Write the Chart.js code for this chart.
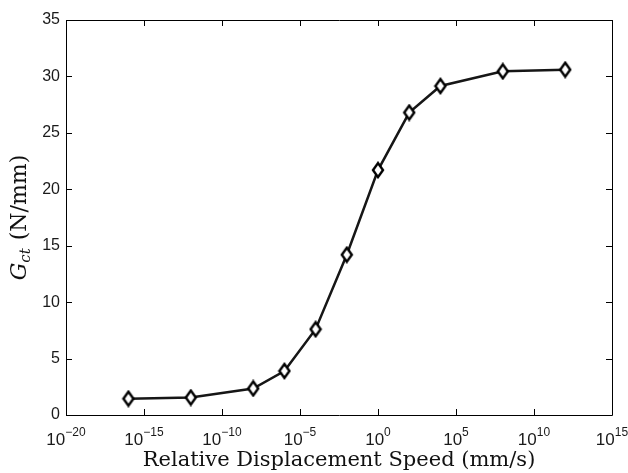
<!DOCTYPE html>
<html>
<head>
<meta charset="utf-8">
<script src="https://cdn.jsdelivr.net/npm/chart.js@4"></script>
<style>
    html, body { margin: 0; padding: 0; background: #ffffff; }
</style>
</head>
<body>
<canvas id="gct_canvas" width="628" height="473"></canvas>
<script>
// values
const speed_values = [1e-16, 1e-12, 1e-8, 1e-6, 1e-4, 1e-2, 1, 1e2, 1e4, 1e8, 1e12];
const gct_values = [1.45, 1.55, 2.35, 3.9, 7.6, 14.2, 21.7, 26.8, 29.15, 30.45, 30.6];

const x_tick_exponents = [-20, -15, -10, -5, 0, 5, 10, 15];
const y_tick_values = [0, 5, 10, 15, 20, 25, 30, 35];

const x_axis_title = "Relative Displacement Speed (mm/s)";
const y_axis_symbol = "G";
const y_axis_subscript = "ct";
const y_axis_unit = " (N/mm)";

const tick_font = '"Liberation Sans", Arial, Helvetica, sans-serif';
const title_font = '"DejaVu Serif", "Liberation Serif", serif';

function make_diamond() {
    const c = document.createElement("canvas");
    c.width = 14;
    c.height = 18;
    const g = c.getContext("2d");
    g.beginPath();
    g.moveTo(7, 2);
    g.lineTo(12, 9);
    g.lineTo(7, 16);
    g.lineTo(2, 9);
    g.closePath();
    g.fillStyle = "#ffffff";
    g.fill();
    g.lineWidth = 2.4;
    g.strokeStyle = "#000000";
    g.stroke();
    return c;
}

// matlab style box, inward ticks and labels
const axes_plugin = {
    id: "matlab_axes",
    afterDatasetsDraw(chart) {
        const ctx = chart.ctx;
        const area = chart.chartArea;
        const x_scale = chart.scales.x;
        const y_scale = chart.scales.y;
        const tick_len = 6;

        ctx.save();
        ctx.strokeStyle = "#000000";
        ctx.lineWidth = 1;
        ctx.beginPath();
        ctx.rect(area.left + 0.5, area.top + 0.5, area.right - area.left, area.bottom - area.top);
        ctx.stroke();

        ctx.beginPath();
        for (const e of x_tick_exponents) {
            const px = Math.round(x_scale.getPixelForValue(Math.pow(10, e))) + 0.5;
            ctx.moveTo(px, area.bottom);
            ctx.lineTo(px, area.bottom - tick_len);
            ctx.moveTo(px, area.top);
            ctx.lineTo(px, area.top + tick_len);
        }
        for (const v of y_tick_values) {
            const py = Math.round(y_scale.getPixelForValue(v)) + 0.5;
            ctx.moveTo(area.left, py);
            ctx.lineTo(area.left + tick_len, py);
            ctx.moveTo(area.right, py);
            ctx.lineTo(area.right - tick_len, py);
        }
        ctx.stroke();

        ctx.fillStyle = "#1a1a1a";

        // y tick labels
        ctx.font = "16px " + tick_font;
        ctx.textAlign = "right";
        ctx.textBaseline = "middle";
        for (const v of y_tick_values) {
            ctx.fillText(String(v), area.left - 6, y_scale.getPixelForValue(v));
        }

        // x tick labels as 10 with a raised exponent
        ctx.textBaseline = "alphabetic";
        ctx.textAlign = "left";
        for (const e of x_tick_exponents) {
            const px = x_scale.getPixelForValue(Math.pow(10, e));
            const base = "10";
            const power = e < 0 ? "\u2212" + Math.abs(e) : String(e);
            ctx.font = "17px " + tick_font;
            const w_base = ctx.measureText(base).width;
            ctx.font = "12px " + tick_font;
            const w_power = ctx.measureText(power).width;
            const start = px - (w_base + w_power) / 2;
            ctx.font = "17px " + tick_font;
            ctx.fillText(base, start, area.bottom + 30);
            ctx.font = "12px " + tick_font;
            ctx.fillText(power, start + w_base, area.bottom + 21);
        }

        // x axis title
        ctx.fillStyle = "#111111";
        ctx.font = "21px " + title_font;
        ctx.textAlign = "center";
        ctx.fillText(x_axis_title, (area.left + area.right) / 2, 466);

        // y axis title, rotated
        ctx.translate(26, (area.top + area.bottom) / 2);
        ctx.rotate(-Math.PI / 2);
        ctx.textAlign = "left";
        ctx.font = "italic 22px " + title_font;
        const w_sym = ctx.measureText(y_axis_symbol).width;
        ctx.font = "italic 15px " + title_font;
        const w_sub = ctx.measureText(y_axis_subscript).width;
        ctx.font = "22px " + title_font;
        const w_unit = ctx.measureText(y_axis_unit).width;
        let cursor = -(w_sym + w_sub + 1 + w_unit) / 2;
        ctx.font = "italic 22px " + title_font;
        ctx.fillText(y_axis_symbol, cursor, 0);
        cursor += w_sym;
        ctx.font = "italic 15px " + title_font;
        ctx.fillText(y_axis_subscript, cursor, 4);
        cursor += w_sub + 1;
        ctx.font = "22px " + title_font;
        ctx.fillText(y_axis_unit, cursor, 0);

        ctx.restore();
    }
};

const points = speed_values.map((s, i) => ({x: s, y: gct_values[i]}));

const config = {
    type: "line",
    data: {
        datasets: [{
            label: "Gct",
            data: points,
            borderColor: "#161616",
            borderWidth: 2.5,
            pointStyle: make_diamond(),
            pointRadius: 6,
            tension: 0,
            fill: false
        }]
    },
    options: {
        responsive: false,
        animation: false,
        devicePixelRatio: 1,
        layout: {
            padding: {left: 66, top: 20, right: 16, bottom: 58}
        },
        plugins: {
            legend: {display: false},
            tooltip: {enabled: false},
            title: {display: false}
        },
        scales: {
            x: {
                type: "logarithmic",
                display: false,
                min: 1e-20,
                max: 1e15
            },
            y: {
                type: "linear",
                display: false,
                min: 0,
                max: 35
            }
        }
    },
    plugins: [axes_plugin]
};

const gct_chart = new Chart(document.getElementById("gct_canvas"), config);
</script>
</body>
</html>
